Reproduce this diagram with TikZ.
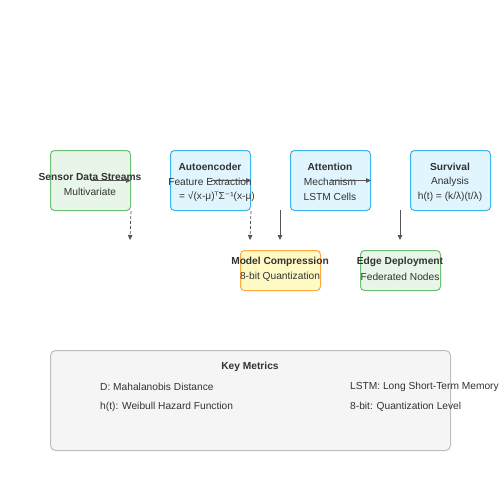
\documentclass[tikz,border=0pt]{standalone}
\usepackage{fontspec}
\setmainfont{Liberation Sans}
\newfontfamily\symfont{DejaVu Sans}
\usetikzlibrary{arrows.meta}
\definecolor{txt}{HTML}{333333}
\definecolor{gfill}{HTML}{E8F5E9}
\definecolor{gdraw}{HTML}{6DBF71}
\definecolor{bfill}{HTML}{E1F5FE}
\definecolor{bdraw}{HTML}{3DB5EC}
\definecolor{yfill}{HTML}{FFF9C4}
\definecolor{ydraw}{HTML}{FFA940}
\definecolor{kfill}{HTML}{F5F5F5}
\definecolor{kdraw}{HTML}{BDBDBD}
\definecolor{arr}{HTML}{555555}
\begin{document}
\begin{tikzpicture}[x=1pt,y=-1pt,
  box/.style={draw,rounded corners=4pt,line width=1pt,inner sep=0pt,anchor=north west},
  gbox/.style={box,fill=gfill,draw=gdraw},
  bbox/.style={box,fill=bfill,draw=bdraw},
  ybox/.style={box,fill=yfill,draw=ydraw},
  kbox/.style={box,fill=kfill,draw=kdraw,rounded corners=5pt},
  ttl/.style={font=\fontsize{10.2}{12}\selectfont\bfseries,text=txt,inner sep=0pt},
  sub/.style={font=\fontsize{10.2}{12}\selectfont,text=txt,inner sep=0pt},
  lft/.style={sub,anchor=west},
  flow/.style={draw=arr,line width=0.8pt,-{Triangle[length=5pt,width=4.5pt]}},
  dflow/.style={flow,dash pattern=on 3pt off 2pt}]
\useasboundingbox (0,0) rectangle (500,500);
% top row
\node[gbox,minimum width=80pt,minimum height=60pt] (b1) at (50,150) {};
\node[bbox,minimum width=80pt,minimum height=60pt] (b2) at (170,150) {};
\node[bbox,minimum width=80pt,minimum height=60pt] (b3) at (290,150) {};
\node[bbox,minimum width=80pt,minimum height=60pt] (b4) at (410,150) {};
% bottom row
\node[ybox,minimum width=80pt,minimum height=40pt] (b5) at (240,250) {};
\node[gbox,minimum width=80pt,minimum height=40pt] (b6) at (360,250) {};
% key metrics
\node[kbox,minimum width=400pt,minimum height=100pt] (k) at (50,350) {};
% texts
\node[ttl] (t1a) at (90,176.5) {Sensor Data Streams};
\node[sub] (t1b) at (90,191.5) {Multivariate};
\node[ttl] (t2a) at (210,166.5) {Autoencoder};
\node[sub] (t2b) at (210,181.5) {Feature Extraction};
\node[sub] (t2c) at (217,196.5) {= √(x-μ){\symfont ᵀ}Σ{\symfont ⁻}¹(x-μ)};
\node[ttl] (t3a) at (330,166.5) {Attention};
\node[sub] (t3b) at (330,181.5) {Mechanism};
\node[sub] (t3c) at (330,196.5) {LSTM Cells};
\node[ttl] (t4a) at (450,166.5) {Survival};
\node[sub] (t4b) at (450,181.5) {Analysis};
\node[sub] (t4c) at (450,196.5) {h(t) = (k/λ)(t/λ)};
\node[ttl] (t5a) at (280,261.5) {Model Compression};
\node[sub] (t5b) at (280,276.5) {8-bit Quantization};
\node[ttl] (t6a) at (400,261.5) {Edge Deployment};
\node[sub] (t6b) at (400,276.5) {Federated Nodes};
\node[ttl] (kt) at (250,366.5) {Key Metrics};
\node[lft] (k1) at (100,386.5) {D: Mahalanobis Distance};
\node[lft] (k2) at (100,406.5) {h(t): Weibull Hazard Function};
\node[lft] (k3) at (350,386.5) {LSTM: Long Short-Term Memory};
\node[lft] (k4) at (350,406.5) {8-bit: Quantization Level};
% connector end points
\coordinate (e1) at (130,240);
\coordinate (e2) at (250,240);
\coordinate (s3) at (280,210);
\coordinate (e3) at (280,240);
\coordinate (s4) at (400,210);
\coordinate (e4) at (400,240);
% connectors
\draw[flow] (b1.center) -- (b1.east);
\draw[flow] (b2.center) -- (b2.east);
\draw[flow] (b3.center) -- (b3.east);
\draw[dflow] (b1.south east) -- (e1);
\draw[dflow] (b2.south east) -- (e2);
\draw[flow] (s3) -- (e3);
\draw[flow] (s4) -- (e4);
\end{tikzpicture}
\end{document}
